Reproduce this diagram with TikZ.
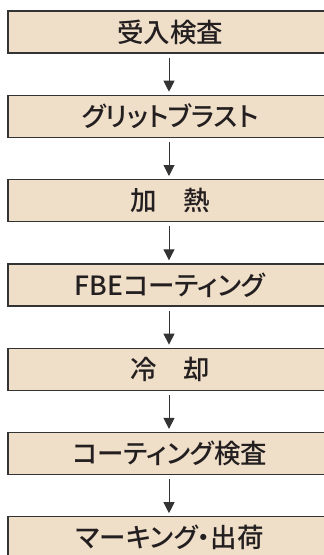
\documentclass[tikz,border=0pt]{standalone}
\usepackage{fontspec}
\setmainfont{Noto Sans CJK JP}[UprightFont=* Medium, RawFeature=+palt]
\usetikzlibrary{arrows.meta}
\definecolor{boxfill}{HTML}{F0DFC8}
\definecolor{boxline}{HTML}{333333}
\definecolor{txt}{HTML}{231F20}
\tikzset{
  stepbox/.style={draw=boxline, line width=1.2pt, fill=boxfill, minimum width=324pt, minimum height=42pt, inner sep=0pt, text=txt, font=\fontsize{26.5pt}{28pt}\selectfont},
  flow/.style={draw=boxline, line width=1pt, -{Triangle[width=11pt,length=11pt]}, shorten <=4pt, shorten >=3pt}
}
\begin{document}
\begin{tikzpicture}[x=1pt,y=1pt]
\useasboundingbox (0,0) rectangle (324,-555);
\clip (0,0) rectangle (324,-555);
\node[stepbox] (s1) at (170,-32) {受入検査};
\node[stepbox] (s2) at (170,-116.3) {グリットブラスト};
\node[stepbox] (s3) at (170,-200.6) {加　熱};
\node[stepbox] (s4) at (170,-284.9) {FBEコーティング};
\node[stepbox] (s5) at (170,-369.2) {冷　却};
\node[stepbox] (s6) at (170,-453.5) {コーティング検査};
\node[stepbox] (s7) at (170,-537.8) {マーキング・出荷};
\foreach \a/\b in {s1/s2,s2/s3,s3/s4,s4/s5,s5/s6,s6/s7}
  \draw[flow] ([xshift=-1pt]\a.south) -- ([xshift=-1pt]\b.north);
\end{tikzpicture}
\end{document}
